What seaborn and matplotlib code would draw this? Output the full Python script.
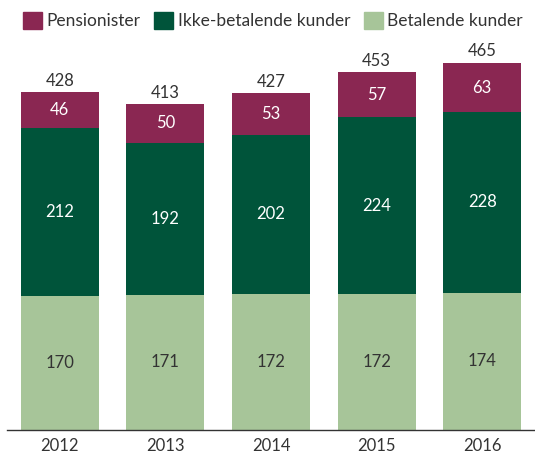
import seaborn as sns
import matplotlib.pyplot as plt
import pandas as pd
from matplotlib.patches import Patch

# Data
years = ['2012', '2013', '2014', '2015', '2016']
betalende = [170, 171, 172, 172, 174]
ikke_betalende = [212, 192, 202, 224, 228]
pensionister = [46, 50, 53, 57, 63]

c_pens = '#8a2752'
c_ikke = '#00543a'
c_bet = '#a7c599'

df = pd.DataFrame({'year': years, 'bet': betalende, 'ikke': ikke_betalende, 'pens': pensionister})
df['mid'] = df['bet'] + df['ikke']
df['total'] = df['mid'] + df['pens']

sns.set_style('white')
plt.rcParams['font.family'] = ['Lato', 'DejaVu Sans']

fig = plt.figure(figsize=(5.35, 4.55), dpi=100)
ax = fig.add_axes([7 / 535, 25 / 455, 528 / 535, 395 / 455])

# stacked bars: draw cumulative heights from the top down
for col, c in [('total', c_pens), ('mid', c_ikke), ('bet', c_bet)]:
    sns.barplot(data=df, x='year', y=col, color=c, width=0.74, saturation=1, linewidth=0, ax=ax)

for i, row in df.iterrows():
    ax.text(i, row['bet'] / 2, str(row['bet']), ha='center', va='center', fontsize=12, color='#333333')
    ax.text(i, row['bet'] + row['ikke'] / 2, str(row['ikke']), ha='center', va='center', fontsize=12, color='white')
    ax.text(i, row['mid'] + row['pens'] / 2, str(row['pens']), ha='center', va='center', fontsize=12, color='white')
    ax.text(i, row['total'] + 4, str(row['total']), ha='center', va='bottom', fontsize=12, color='#333333')

ax.set_xlim(-0.5, 4.5)
ax.set_ylim(0, 500)
ax.set_xlabel('')
ax.set_ylabel('')
ax.set_yticks([])
ax.tick_params(axis='x', length=0, labelsize=12, labelcolor='#333333', pad=6)
for s in ['top', 'left', 'right']:
    ax.spines[s].set_visible(False)
ax.spines['bottom'].set_color('#333333')
ax.spines['bottom'].set_linewidth(1)

handles = [Patch(color=c_pens, label='Pensionister'),
           Patch(color=c_ikke, label='Ikke-betalende kunder'),
           Patch(color=c_bet, label='Betalende kunder')]
fig.legend(handles=handles, loc='upper left', bbox_to_anchor=(0.02, 1.0), ncol=3, frameon=False,
           fontsize=12.5, handlelength=1.1, handleheight=1.1, handletextpad=0.25, columnspacing=0.8,
           labelcolor='#333333', borderaxespad=0.3)

fig.savefig('out.png', dpi=100)
